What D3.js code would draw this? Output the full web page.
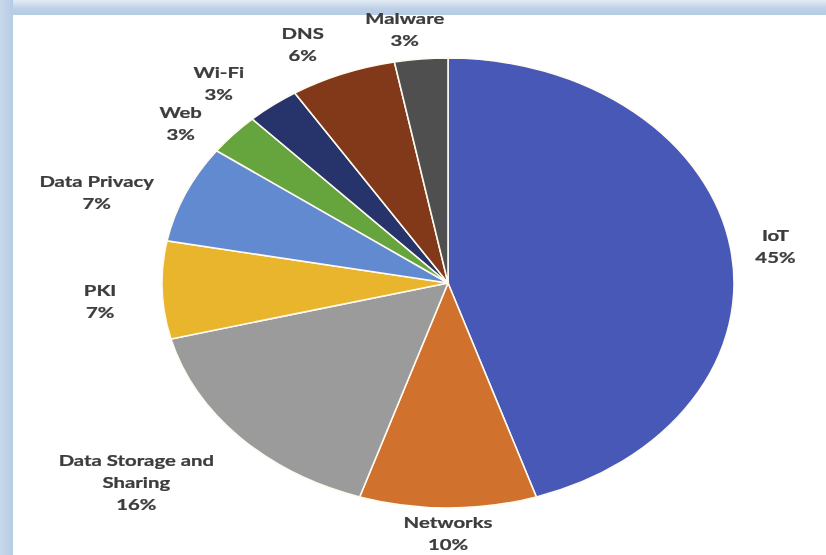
<!DOCTYPE html>
<html><head><meta charset="utf-8">
<script src="https://cdn.jsdelivr.net/npm/d3@7"></script>
<style>body{margin:0;background:#fff;}svg{display:block;}</style>
</head><body>
<svg id="c" width="826" height="555"></svg>
<script>
const categories = ["IoT","Networks","Data Storage and Sharing","PKI","Data Privacy","Web","Wi-Fi","DNS","Malware"];
const values = [45,10,16,7,7,3,3,6,3];
const labelLines = [["IoT"],["Networks"],["Data Storage and","Sharing"],["PKI"],["Data Privacy"],["Web"],["Wi-Fi"],["DNS"],["Malware"]];
const colors = ["#4858b6","#d0712e","#9b9b9b","#e8b52c","#628ad0","#66a43e","#27336b","#81391a","#4f4f4f"];

const W = 826, H = 555;
const svg = d3.select("#c");
const defs = svg.append("defs");
const g1 = defs.append("linearGradient").attr("id","topg").attr("x1",0).attr("y1",0).attr("x2",0).attr("y2",1);
g1.append("stop").attr("offset","0%").attr("stop-color","#e4ecf6");
g1.append("stop").attr("offset","60%").attr("stop-color","#bccfe6");
g1.append("stop").attr("offset","100%").attr("stop-color","#b6cbe4");
const g2 = defs.append("linearGradient").attr("id","leftg").attr("x1",0).attr("y1",0).attr("x2",1).attr("y2",0);
g2.append("stop").attr("offset","0%").attr("stop-color","#c9d9ec");
g2.append("stop").attr("offset","100%").attr("stop-color","#b6cbe4");
const bl = defs.append("filter").attr("id","soft").attr("x","-10%").attr("y","-10%").attr("width","120%").attr("height","120%");
bl.append("feGaussianBlur").attr("stdDeviation",0.35);

svg.append("rect").attr("width",W).attr("height",H).attr("fill","#fff");
svg.append("rect").attr("x",0).attr("y",0).attr("width",W).attr("height",15).attr("fill","url(#topg)");
svg.append("rect").attr("x",0).attr("y",0).attr("width",13).attr("height",H).attr("fill","url(#leftg)");

const cx = 448, cy = 283, R = 225, sx = 286/225;
const root = svg.append("g").attr("transform",`translate(${cx},${cy}) scale(${sx},1)`);

const pie = d3.pie().sort(null).value(d=>d)(values);
const arc = d3.arc().innerRadius(0).outerRadius(R);
root.selectAll("path.slice").data(pie).join("path")
  .attr("class","slice")
  .attr("d",arc)
  .attr("fill",(d,i)=>colors[i])
  .attr("stroke","#fffaf0")
  .attr("stroke-width",1.6)
  .attr("vector-effect","non-scaling-stroke");

// labels
const fs = 16, lh = 22;
const gap = 20;
const nudge = {"IoT":[0,4],"Networks":[0,-16],"Data Storage and Sharing":[-22,10],"PKI":[-16,10],"Data Privacy":[-10,14],"Web":[-14,16],"Wi-Fi":[-18,10],"DNS":[-18,8],"Malware":[-8,10]};
const lg = root.selectAll("g.lab").data(pie).join("g").attr("class","lab");
lg.each(function(d,i){
  const g = d3.select(this);
  const lines = labelLines[i].concat([values[i]+"%"]);
  const t = g.append("text").attr("text-anchor","middle")
    .attr("font-family","Lato, 'Open Sans', sans-serif").attr("font-weight","bold")
    .attr("font-size",fs).attr("fill","#3c3c3c")
    .attr("stroke","#3c3c3c").attr("stroke-width",0.25)
    .attr("filter","url(#soft)");
  lines.forEach((s,k)=>t.append("tspan").attr("x",0).attr("y",k*lh).text(s));
  const bb = t.node().getBBox();
  const a = (d.startAngle+d.endAngle)/2;
  const ux = Math.sin(a), uy = -Math.cos(a);
  const hw = bb.width/2, hh = bb.height/2;
  const n = nudge[categories[i]] || [0,0];
  const px = (R+gap)*ux + hw*ux + n[0];
  const py = (R+gap)*uy + hh*uy + n[1];
  const ox = px, oy = py - (bb.y + bb.height/2);
  g.attr("transform",`translate(${ox},${oy})`);
});
</script>
</body></html>
